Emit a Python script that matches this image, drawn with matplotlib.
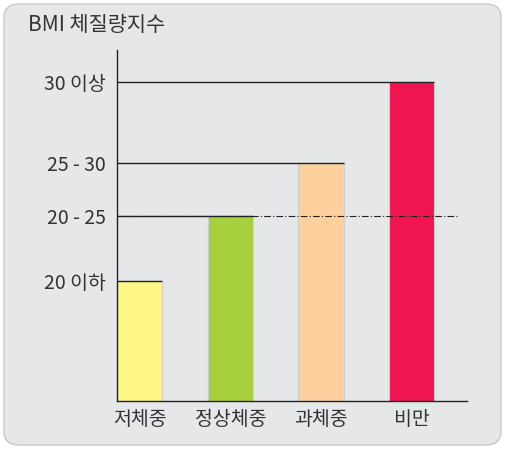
import matplotlib.pyplot as plt
from matplotlib.patches import FancyBboxPatch

plt.rcParams['font.family'] = ['Noto Sans CJK KR', 'DejaVu Sans']
plt.rcParams['font.weight'] = 'light'

# data (bar heights, in pixels above the baseline)
categories = ['저체중', '정상체중', '과체중', '비만']
heights = [120, 185, 238, 319]
level_labels = ['20 이하', '20 - 25', '25 - 30', '30 이상']
colors = ['#fff685', '#a8d03c', '#fed09e', '#ee1550']
title = 'BMI 체질량지수'

fig = plt.figure(figsize=(5.05, 4.49), dpi=100)
fig.patch.set_facecolor('white')

# rounded grey panel
panel = FancyBboxPatch((4 / 505, 4 / 449), 497 / 505, 441 / 449,
                       boxstyle='round,pad=0,rounding_size=0.03',
                       transform=fig.transFigure, facecolor='#e6e7e9',
                       edgecolor='#c9c9cb', linewidth=1.0, zorder=-10)
fig.patches.append(panel)

ax = fig.add_axes([117 / 505, 48 / 449, 350 / 505, 351 / 449])
ax.set_facecolor('none')
ax.set_zorder(1)

x = list(range(len(categories)))
width = 0.5
ax.bar(x, heights, width=width, color=colors, edgecolor='#cfcfcf',
       linewidth=0.8, zorder=2)

xmin, xmax = -0.25, 3.61
ax.set_xlim(xmin, xmax)
ax.set_ylim(0, 351)

# level lines from the axis to each bar's right edge
for xi, h in zip(x, heights):
    ax.hlines(h, xmin, xi + width / 2, color='#222222', linewidth=1.0, zorder=3)

# dash-dot reference line at the normal-weight level
ax.plot([xmin, 3.5], [heights[1], heights[1]], color='#222222',
        linewidth=0.8, linestyle=(0, (6, 2, 1, 2)), zorder=4)

ax.set_yticks(heights)
ax.set_yticklabels(level_labels)
ax.set_xticks(x)
ax.set_xticklabels(categories)
ax.tick_params(axis='both', length=0, labelsize=14, colors='#333333')
ax.tick_params(axis='y', pad=8)
ax.tick_params(axis='x', pad=6)

for s in ['top', 'right']:
    ax.spines[s].set_visible(False)
for s in ['left', 'bottom']:
    ax.spines[s].set_color('#222222')
    ax.spines[s].set_linewidth(1.0)

fig.text(28 / 505, 1 - 25 / 449, title, fontsize=15, color='#333333',
         va='center', ha='left')

fig.savefig('out.png', dpi=100)
